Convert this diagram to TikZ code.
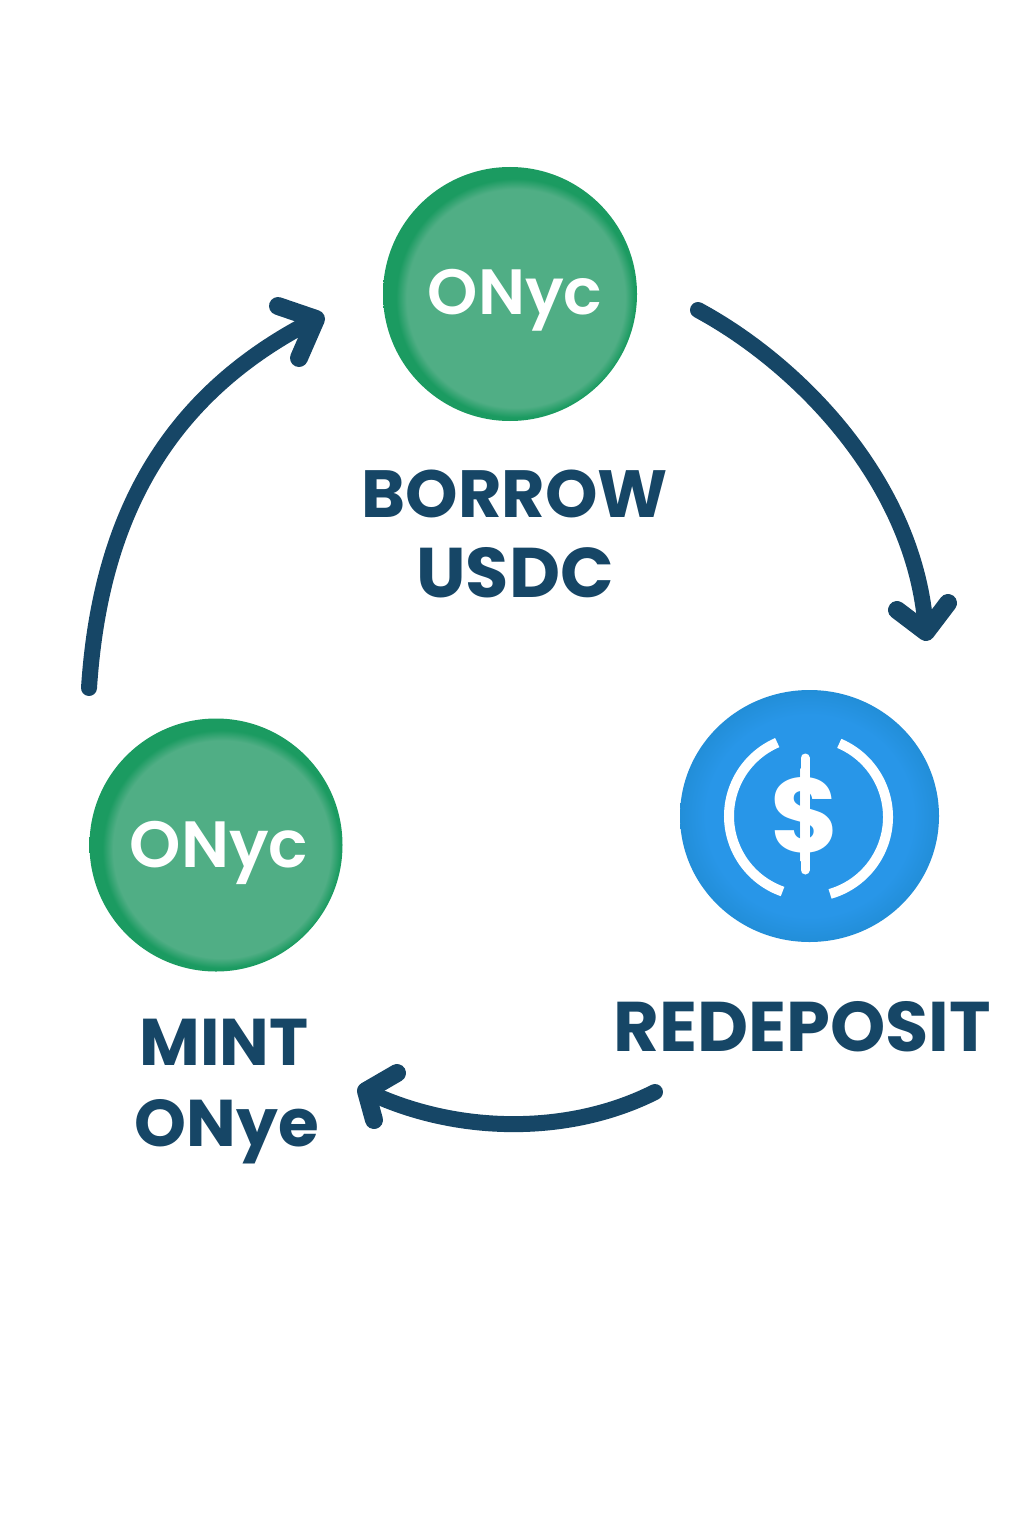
\documentclass[tikz,border=0pt]{standalone}
\usepackage{fontspec}
\setmainfont{Poppins}
\newfontfamily\labfont{Poppins}[UprightFont=* Bold]
\newfontfamily\logofont{Poppins}[UprightFont=* SemiBold]
\usetikzlibrary{shapes.geometric}
\definecolor{navy}{HTML}{164666}
\definecolor{grn}{HTML}{1B9B61}
\definecolor{grnin}{HTML}{50AE85}
\definecolor{blu}{HTML}{2896E8}
\definecolor{bluedge}{HTML}{228ED8}
\pgfdeclareradialshading{coingrn}{\pgfpoint{2bp}{-1.5bp}}{color(0bp)=(grnin); color(21.5bp)=(grnin); color(23.5bp)=(grn); color(50bp)=(grn)}
\pgfdeclareradialshading{coinblu}{\pgfpoint{0bp}{0bp}}{color(0bp)=(blu); color(20bp)=(blu); color(25bp)=(bluedge); color(50bp)=(bluedge)}
\tikzset{
 x=0.05cm,y=-0.05cm,
 lab/.style={text=navy,font=\labfont\fontsize{#1}{#1}\selectfont,inner sep=0pt,anchor=base},
 logo/.style={text=white,font=\logofont\fontsize{#1}{#1}\selectfont,inner sep=0pt,anchor=base},
 flow/.style={draw=navy,line width=16*0.05cm,line cap=round,line join=round},
 flowhead/.style={draw=navy,line width=18*0.05cm,line cap=round,line join=round},
 ringarc/.style={draw=white,line width=10*0.05cm},
 coin/.style={circle,inner sep=0pt,minimum size=#1*0.05cm,shading=coingrn},
 bluecoin/.style={ellipse,inner sep=0pt,minimum width=259*0.05cm,minimum height=252*0.05cm,shading=coinblu},
}
\begin{document}
\begin{tikzpicture}
\useasboundingbox (0,0) rectangle (1024,1536);
\fill[white] (0,0) rectangle (1024,1536);
\node[coin=254] (top) at (510,294) {};
\node[coin=253] (left) at (216,845) {};
\node[bluecoin] (right) at (809.5,816) {};
\node[logo=91] (logotop) at (515,314) {ONyc};
\node[logo=93] (logoleft) at (219,867) {ONyc};
\node[lab=95] (l1) at (515,517) {BORROW};
\node[lab=100] (l2) at (515,597) {USDC};
\node[lab=100] (l3) at (802,1051) {REDEPOSIT};
\node[lab=94] (l4) at (224,1065) {MINT};
\node[lab=94] (l5) at (227,1146) {ONye};
\node[text=white,font=\labfont\fontsize{150}{150}\selectfont,inner sep=0pt] (dollar) at (805,815) {\$};
\coordinate (barT) at (805,758);
\coordinate (barB) at (805,870);
\draw[white,line width=9*0.05cm,line cap=round] (barT) -- (barB);
\draw[ringarc] (809,816) ++(246.6:80) arc[start angle=246.6,end angle=109.3,radius=80];
\draw[ringarc] (808,817) ++(-67:80) arc[start angle=-67,end angle=74,radius=80];
\coordinate (a1s) at (89,688);
\coordinate (a1e) at (316,319);
\coordinate (a1b) at (278,306);
\coordinate (a1c) at (299,358);
\draw[flow] (a1s) .. controls (100,520) and (165,395) .. (a1e);
\draw[flowhead] (a1b) -- (a1e) -- (a1c);
\coordinate (a2s) at (698,310);
\coordinate (a2e) at (926,632);
\coordinate (a2b) at (897,610);
\coordinate (a2c) at (948,603);
\draw[flow] (a2s) .. controls (800,365) and (917,485) .. (a2e);
\draw[flowhead] (a2b) -- (a2e) -- (a2c);
\coordinate (a3s) at (655,1092);
\coordinate (a3e) at (366,1091);
\coordinate (a3b) at (397,1073);
\coordinate (a3c) at (374,1120);
\draw[flow] (a3s) .. controls (570,1135) and (457,1135) .. (a3e);
\draw[flowhead] (a3b) -- (a3e) -- (a3c);
\end{tikzpicture}
\end{document}
